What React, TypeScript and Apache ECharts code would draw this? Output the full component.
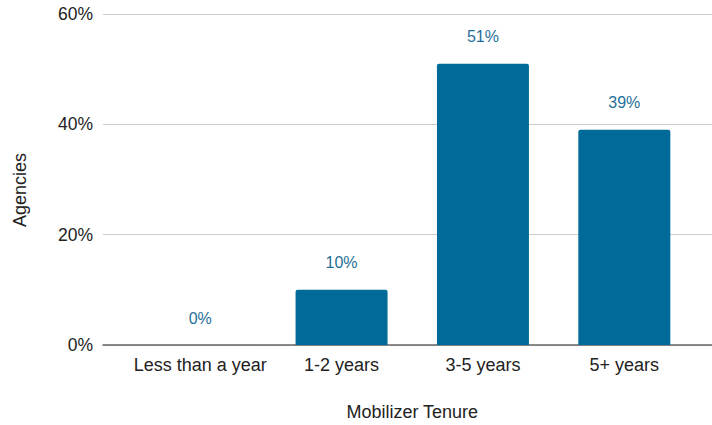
import React, { useEffect, useRef } from "react";
import * as echarts from "echarts";

const categories = ["Less than a year", "1-2 years", "3-5 years", "5+ years"];
const values = [0, 10, 51, 39];
const yTicks = [0, 20, 40, 60];

const FONT = "'Liberation Sans', Arial, sans-serif";
const BAR = "#006a98";
const LABEL = "#1f6f98";
const TEXT = "#222222";

export default function App() {
  const ref = useRef<HTMLDivElement>(null);
  useEffect(() => {
    if (!ref.current) return;
    const chart = echarts.init(ref.current, undefined, { renderer: "svg" });
    chart.setOption({
      animation: false,
      textStyle: { fontFamily: FONT },
      grid: [
        { left: 103, right: 0, top: 14, height: 331, containLabel: false, outerBoundsMode: "none" },
        { left: 129.5, right: 17, top: 14, height: 331, containLabel: false, outerBoundsMode: "none" },
      ],
      xAxis: [
        {
          gridIndex: 0,
          type: "value",
          min: 0,
          max: 1,
          axisLine: { show: true, onZero: false, lineStyle: { color: "#666666", width: 1.5 } },
          axisTick: { show: false },
          axisLabel: { show: false },
          splitLine: { show: false },
        },
        {
          gridIndex: 1,
          type: "category",
          data: categories,
          axisLine: { show: false },
          axisTick: { show: false },
          axisLabel: { color: TEXT, fontSize: 18, margin: 11, interval: 0, fontFamily: FONT },
          name: "Mobilizer Tenure",
          nameLocation: "middle",
          nameGap: 58,
          nameTextStyle: { color: TEXT, fontSize: 18, fontFamily: FONT },
        },
      ],
      yAxis: [
        {
          gridIndex: 0,
          type: "value",
          min: yTicks[0],
          max: yTicks[yTicks.length - 1],
          interval: 20,
          axisLine: { show: false },
          axisTick: { show: false },
          axisLabel: { color: TEXT, fontSize: 17.5, margin: 10, formatter: "{value}%", fontFamily: FONT },
          splitLine: { show: true, lineStyle: { color: "#cccccc", width: 1 } },
        },
        {
          gridIndex: 1,
          type: "value",
          min: yTicks[0],
          max: yTicks[yTicks.length - 1],
          interval: 20,
          show: false,
          splitLine: { show: false },
        },
      ],
      graphic: [
        {
          type: "text",
          x: 20,
          y: 190,
          rotation: Math.PI / 2,
          style: {
            text: "Agencies",
            fill: TEXT,
            font: `18px ${FONT}`,
            align: "center",
            verticalAlign: "middle",
          },
        },
      ],
      series: [
        {
          type: "bar",
          xAxisIndex: 1,
          yAxisIndex: 1,
          data: values,
          barWidth: 92,
          itemStyle: { color: BAR, borderRadius: [2, 2, 0, 0] },
          label: {
            show: true,
            position: "top",
            distance: 19,
            formatter: "{c}%",
            color: LABEL,
            fontSize: 16,
            fontFamily: FONT,
          },
        },
      ],
    });
    return () => chart.dispose();
  }, []);
  return (
    <div
      ref={ref}
      style={{ position: "absolute", left: 0, top: 0, width: 712, height: 425, background: "#fff" }}
    />
  );
}
